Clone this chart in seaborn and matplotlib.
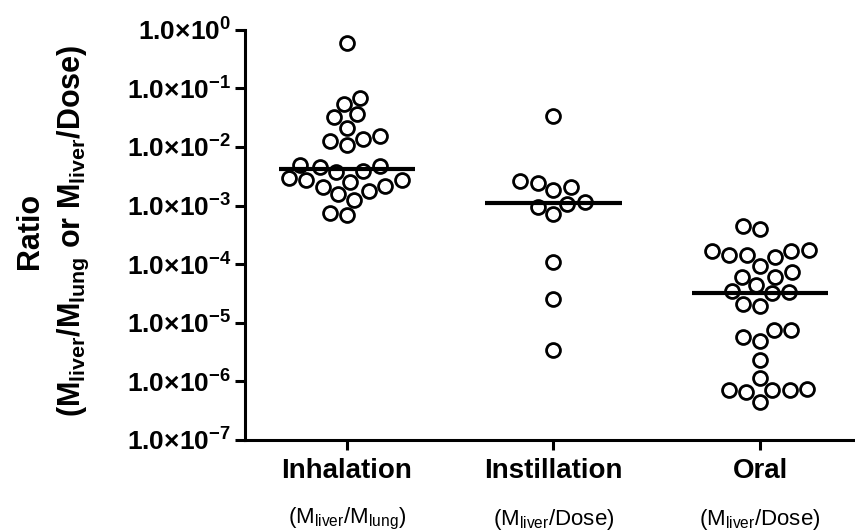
import numpy as np
import pandas as pd
import matplotlib
matplotlib.use('Agg')
import matplotlib.pyplot as plt
import matplotlib.transforms as mtransforms
from matplotlib.ticker import FixedLocator, FuncFormatter, NullLocator
import seaborn as sns

# valores (razao figado/pulmao ou figado/dose)
routes = ['Inhalation', 'Instillation', 'Oral']
subtitles = ['(M$_{liver}$/M$_{lung}$)', '(M$_{liver}$/Dose)', '(M$_{liver}$/Dose)']

inhalation = [0.605, 0.069, 0.055, 0.036, 0.032, 0.021, 0.0157, 0.0137, 0.0125, 0.0108,
              0.0050, 0.0048, 0.0046, 0.0039, 0.0037, 0.0030, 0.0027, 0.0027, 0.0025,
              0.0022, 0.0021, 0.0018, 0.00156, 0.00123, 0.00075, 0.00068]
instillation = [0.034, 0.00264, 0.00247, 0.00206, 0.00185, 0.00113, 0.00107, 0.00094,
                0.00072, 1.11e-4, 2.5e-5, 3.45e-6]
oral = [4.5e-4, 3.96e-4, 1.75e-4, 1.71e-4, 1.71e-4, 1.44e-4, 1.44e-4, 1.32e-4, 9.4e-5,
        7.3e-5, 6.1e-5, 6.1e-5, 4.4e-5, 3.54e-5, 3.3e-5, 3.2e-5, 2.1e-5, 1.97e-5,
        7.4e-6, 7.4e-6, 5.7e-6, 4.97e-6, 2.33e-6, 1.13e-6, 7.4e-7, 7.2e-7, 7.2e-7,
        7.2e-7, 6.7e-7, 4.5e-7]

exponents = [0, -1, -2, -3, -4, -5, -6, -7]

df = pd.DataFrame({
    'route': ['Inhalation'] * len(inhalation) + ['Instillation'] * len(instillation)
             + ['Oral'] * len(oral),
    'ratio': inhalation + instillation + oral,
})

sns.set_style('ticks')
plt.rcParams['font.family'] = ['Liberation Sans', 'DejaVu Sans']
plt.rcParams['mathtext.default'] = 'regular'
for k in ['text.color', 'axes.labelcolor', 'xtick.color', 'ytick.color', 'axes.edgecolor']:
    plt.rcParams[k] = 'black'

fig = plt.figure(figsize=(8.55, 5.32), dpi=100)
ax = fig.add_axes([0.2865, 0.173, 0.7135, 0.771])

sns.swarmplot(data=df, x='route', y='ratio', order=routes, ax=ax, log_scale=True,
              color='white', edgecolor='black', linewidth=2.0, size=10, zorder=2)

# linha da mediana de cada grupo
medians = df.groupby('route')['ratio'].median().reindex(routes)
for i, m in enumerate(medians):
    ax.hlines(m, i - 0.33, i + 0.33, color='black', linewidth=3, zorder=3)

ax.set_ylim(1e-7, 1)
ax.set_xlim(-0.494, 2.46)
ax.yaxis.set_major_locator(FixedLocator([10.0 ** e for e in exponents]))
ax.yaxis.set_minor_locator(NullLocator())
ax.yaxis.set_major_formatter(FuncFormatter(
    lambda v, pos: '1.0×10$^{%d}$' % int(round(np.log10(v)))))

for s in ['left', 'bottom']:
    ax.spines[s].set_linewidth(2.2)
sns.despine(ax=ax)
ax.tick_params(axis='y', width=2.2, length=7, pad=3, labelsize=19)
ax.tick_params(axis='x', width=2.2, length=7, pad=6, labelsize=20)
for lbl in ax.get_xticklabels() + ax.get_yticklabels():
    lbl.set_fontweight('bold')

ax.set_xlabel('')
ax.set_ylabel('Ratio\n(M$_{liver}$/M$_{lung}$ or M$_{liver}$/Dose)',
              fontsize=22, fontweight='bold', linespacing=1.45)
ax.yaxis.set_label_coords(-0.252, 0.51)

trans = mtransforms.blended_transform_factory(ax.transData, fig.transFigure)
for i, sub in enumerate(subtitles):
    ax.text(i, 0.024, sub, transform=trans, ha='center', va='center', fontsize=16)

fig.savefig('out.png', dpi=100)
